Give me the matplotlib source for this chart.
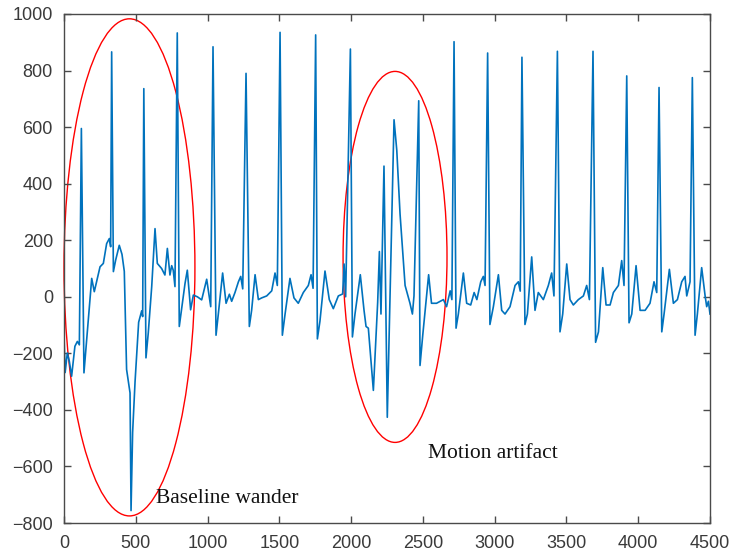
import matplotlib.pyplot as plt
from matplotlib.patches import Ellipse

# ECG trace: (sample, amplitude)
baseline_wander = [
    (0, -140), (8, -268), (23, -199), (37, -228), (53, -281), (76, -175),
    (93, -158), (107, -170), (121, 595), (139, -269), (193, 65), (211, 18),
    (251, 106), (274, 118), (297, 188), (316, 206), (325, 177), (332, 866),
    (344, 89), (360, 130), (385, 182), (404, 150), (420, 90), (436, -257),
    (460, -340), (467, -756), (478, -480), (495, -300), (520, -90), (541, -50),
    (548, -70), (556, 736), (571, -216), (587, -128), (611, 36), (634, 241),
    (650, 118), (680, 100), (703, 77), (720, 171), (738, 77), (750, 110),
    (761, 94), (773, 36), (789, 933), (803, -105), (820, -40), (843, 47),
    (859, 94), (882, -46), (901, 6), (929, 0), (959, -11), (994, 62),
    (1022, -35),
]
clean_mid = [
    (1038, 884), (1059, -136), (1075, -61), (1105, 84), (1129, -23), (1152, 9),
    (1168, -16), (1191, 15), (1215, 53), (1231, 72), (1245, 28), (1268, 790),
    (1291, -105), (1307, -48), (1331, 78), (1354, -10), (1377, -4), (1412, 3),
    (1447, 21), (1470, 84), (1486, 40), (1505, 935), (1521, -136), (1540, -61),
    (1574, 65), (1602, -4), (1632, -23), (1667, 15), (1702, 40), (1721, 78),
    (1735, 30), (1753, 926), (1765, -149), (1783, -86), (1818, 91), (1848, -10),
    (1876, -42), (1911, 3), (1941, 10), (1951, 116), (1962, 0), (1995, 876),
]
motion = [
    (2009, -142), (2027, -61), (2064, 78), (2090, -48), (2104, -105),
    (2120, -111), (2155, -331), (2185, -20), (2197, 160), (2208, -61),
    (2229, 462), (2252, -426), (2299, 626), (2318, 519), (2341, 292),
    (2376, 40), (2410, -23), (2427, -61), (2438, 3), (2471, 693), (2480, -243),
    (2499, -136), (2540, 78), (2560, -23), (2595, -23), (2643, -10),
    (2665, -35), (2690, 21), (2702, -10),
]
clean_tail = [
    (2717, 902), (2731, -111), (2747, -61), (2782, 84), (2805, -23), (2833, -29),
    (2857, 15), (2876, -10), (2903, 53), (2921, 72), (2933, 40), (2951, 862),
    (2967, -98), (2991, -35), (3026, 78), (3049, -48), (3072, -61), (3107, -35),
    (3142, 40), (3165, 53), (3178, 20), (3190, 847), (3211, -98), (3228, -61),
    (3258, 141), (3281, -48), (3304, 15), (3339, -10), (3374, 40), (3397, 84),
    (3413, 3), (3437, 868), (3455, -124), (3474, -61), (3502, 116), (3525, -10),
    (3548, -29), (3583, -10), (3618, 3), (3641, 40), (3660, -10), (3685, 868),
    (3703, -161), (3723, -124), (3753, 103), (3776, -29), (3804, -29), (3827, 15),
    (3862, 40), (3885, 128), (3901, 40), (3920, 781), (3936, -92), (3955, -61),
    (3985, 110), (4013, -48), (4048, -48), (4082, -23), (4110, 53), (4129, 15),
    (4145, 740), (4164, -124), (4180, -61), (4217, 97), (4245, -23), (4273, -10),
    (4303, 53), (4326, 72), (4338, 3), (4361, 53), (4377, 775), (4396, -136),
    (4412, -61), (4442, 103), (4466, 3), (4477, -35), (4489, -16), (4500, -61),
]

x_ticks = [0, 500, 1000, 1500, 2000, 2500, 3000, 3500, 4000, 4500]
y_ticks = [-800, -600, -400, -200, 0, 200, 400, 600, 800, 1000]

trace = baseline_wander + clean_mid + motion + clean_tail
xs = [p[0] for p in trace]
ys = [p[1] for p in trace]

fig = plt.figure(figsize=(7.36, 5.6), dpi=100)
ax = fig.add_axes([64 / 736, 37 / 560, 646 / 736, 509 / 560])
ax.plot(xs, ys, color='#0072BD', lw=1.2)

# highlighted regions
ax.add_patch(Ellipse((456, 104), 912, 1758, fill=False, ec='red', lw=1.0, clip_on=False))
ax.add_patch(Ellipse((2306, 141), 724, 1312, fill=False, ec='red', lw=1.0))
ax.text(641, -729, 'Baseline wander', family='Liberation Serif', fontsize=15.5, color='#111111')
ax.text(2538, -569, 'Motion artifact', family='Liberation Serif', fontsize=15.5, color='#111111')

ax.set_xlim(0, 4500)
ax.set_ylim(-800, 1000)
ax.set_xticks(x_ticks)
ax.set_yticks(y_ticks)
for s in ax.spines.values():
    s.set_color('#4a4a4a')
    s.set_linewidth(1.0)
ax.tick_params(direction='in', top=True, right=True, length=5, width=1.0,
               color='#4a4a4a', labelcolor='#3a3a3a', labelsize=13)
ax.tick_params(axis='x', pad=9)
ax.tick_params(axis='y', pad=8)
for lab in ax.get_xticklabels() + ax.get_yticklabels():
    lab.set_family('Liberation Sans')

fig.savefig('out.png', dpi=100)
